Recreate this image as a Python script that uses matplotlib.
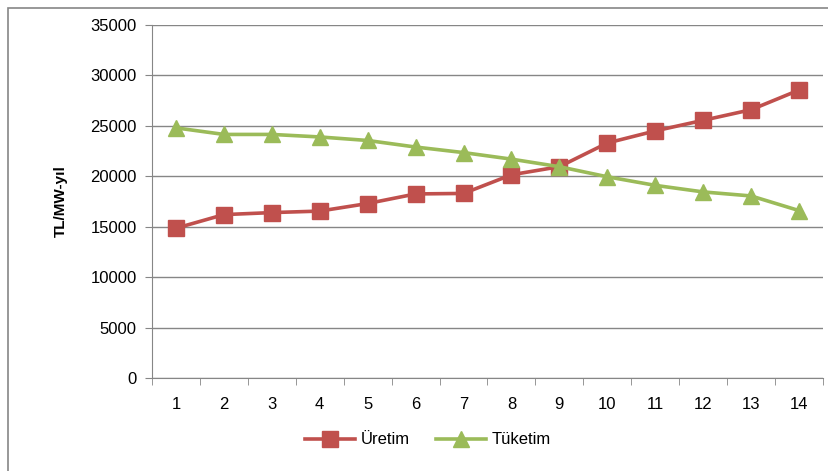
import matplotlib.pyplot as plt
from matplotlib.patches import Rectangle
import numpy as np

categories = [str(i) for i in range(1, 15)]
uretim = [14850, 16200, 16400, 16550, 17300, 18250, 18300, 20150, 20950, 23300, 24500, 25550, 26600, 28550]
tuketim = [24800, 24150, 24150, 23900, 23550, 22900, 22350, 21700, 20950, 19950, 19100, 18450, 18050, 16600]

plt.rcParams['font.family'] = ['Liberation Sans', 'DejaVu Sans']

fig = plt.figure(figsize=(8.29, 4.71), dpi=100)
ax = fig.add_axes([152 / 829, 1 - 378 / 471, (823 - 152) / 829, (378 - 25) / 471])

x = np.arange(len(categories))
ax.plot(x, uretim, color="#C0504D", lw=2.6, marker="s", ms=11, label="Üretim", zorder=3)
ax.plot(x, tuketim, color="#9BBB59", lw=2.6, marker="^", ms=12, label="Tüketim", zorder=3)

ax.set_xlim(-0.5, len(categories) - 0.5)
ax.set_ylim(0, 35000)
ax.set_yticks(range(0, 35001, 5000))
ax.set_xticks(x)
ax.set_xticklabels(categories)
ax.set_xticks(np.arange(-0.5, len(categories)), minor=True)
ax.tick_params(axis="x", which="major", length=0, pad=14, labelsize=12)
ax.tick_params(axis="x", which="minor", length=5, color="#868686")
ax.tick_params(axis="y", length=5, color="#868686", labelsize=12, pad=6)
ax.grid(axis="y", color="#868686", lw=1)
ax.set_axisbelow(True)
for side in ["top", "right"]:
    ax.spines[side].set_visible(False)
for side in ["left", "bottom"]:
    ax.spines[side].set_color("#868686")
ax.set_ylabel("TL/MW-yıl", fontweight="bold", fontsize=11, labelpad=16)

ax.legend(loc="center", bbox_to_anchor=(428 / 829, 1 - 440 / 471), bbox_transform=fig.transFigure,
          ncol=2, frameon=False, fontsize=12, handlelength=3.0, columnspacing=1.6, handletextpad=0.3)

fig.patches.append(Rectangle((8 / 829, -0.1), 1.2, 1.1 - 8 / 471, transform=fig.transFigure,
                             fill=False, edgecolor="#868686", lw=1.2, clip_on=False))

fig.savefig("out.png", dpi=100)
